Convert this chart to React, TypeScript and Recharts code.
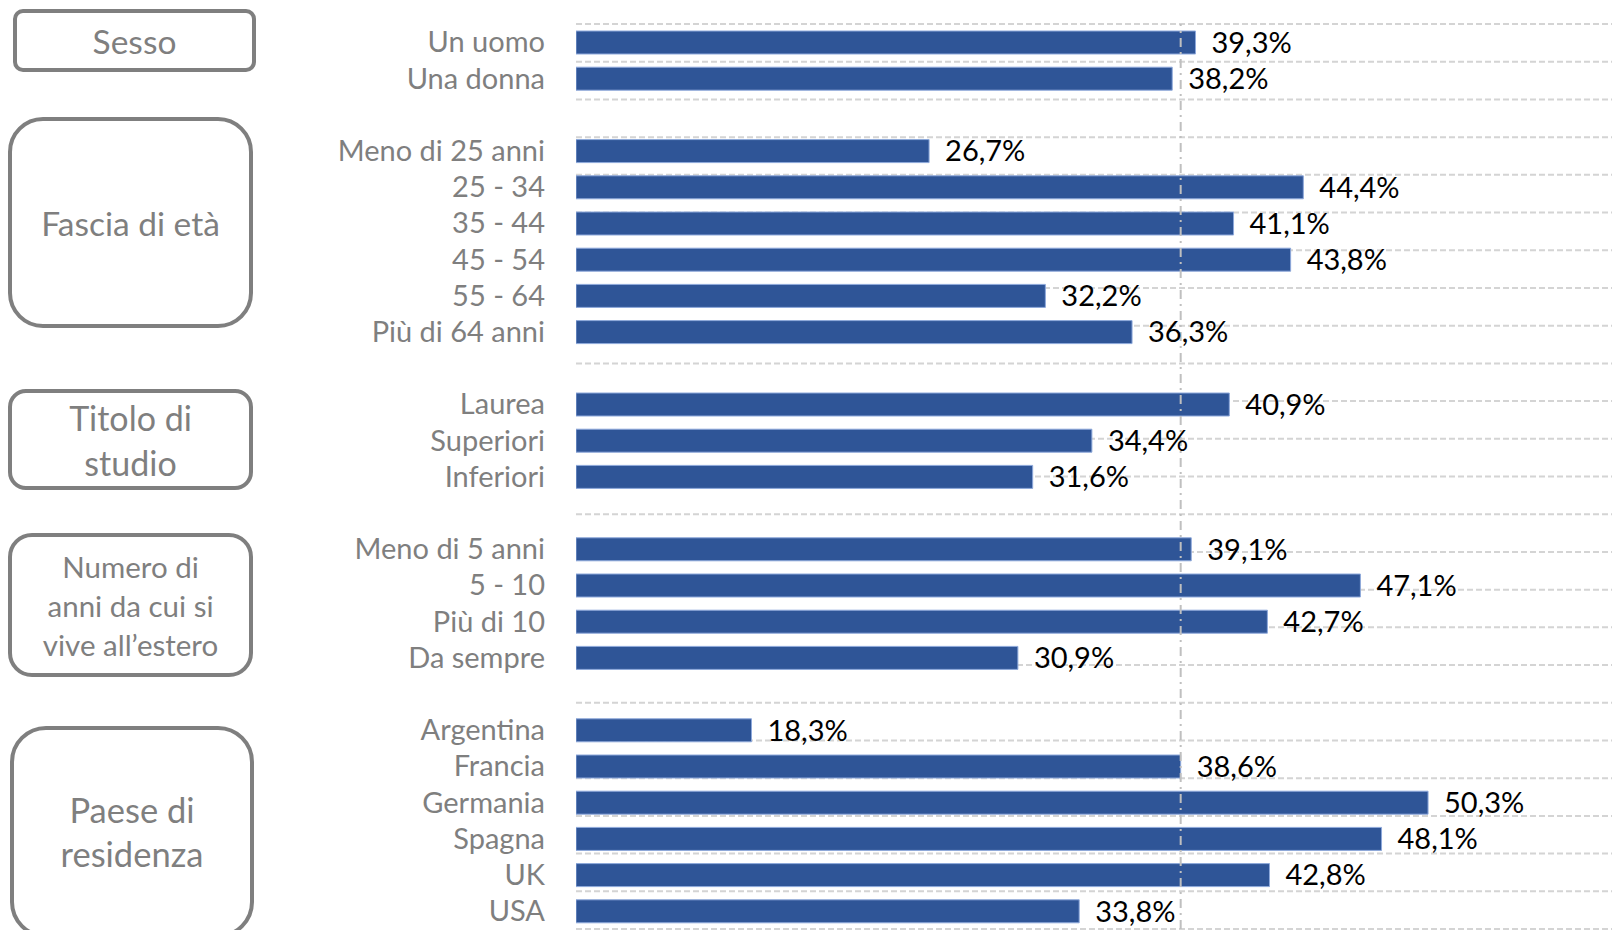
import React from "react";
import { BarChart, Bar, XAxis, YAxis, CartesianGrid, ReferenceLine, LabelList } from "recharts";

// ---- data ----
const groupTitles = [
  "Sesso",
  "Fascia di età",
  "Titolo di\nstudio",
  "Numero di\nanni da cui si\nvive all’estero",
  "Paese di\nresidenza",
];

const sessoLabels = ["Un uomo", "Una donna"];
const sessoValues = [39.3, 38.2];

const etaLabels = ["Meno di 25 anni", "25 - 34", "35 - 44", "45 - 54", "55 - 64", "Più di 64 anni"];
const etaValues = [26.7, 44.4, 41.1, 43.8, 32.2, 36.3];

const studioLabels = ["Laurea", "Superiori", "Inferiori"];
const studioValues = [40.9, 34.4, 31.6];

const anniLabels = ["Meno di 5 anni", "5 - 10", "Più di 10", "Da sempre"];
const anniValues = [39.1, 47.1, 42.7, 30.9];

const paeseLabels = ["Argentina", "Francia", "Germania", "Spagna", "UK", "USA"];
const paeseValues = [18.3, 38.6, 50.3, 48.1, 42.8, 33.8];

const mediaValue = 38.6;
const valueDomain: [number, number] = [10, 59];

const groups = [
  { labels: sessoLabels, values: sessoValues },
  { labels: etaLabels, values: etaValues },
  { labels: studioLabels, values: studioValues },
  { labels: anniLabels, values: anniValues },
  { labels: paeseLabels, values: paeseValues },
];

type Row = { key: string; label: string; value: number | null };
const rows: Row[] = [];
groups.forEach((g, gi) => {
  if (gi > 0) rows.push({ key: `gap${gi}`, label: "", value: null });
  g.labels.forEach((l, i) => rows.push({ key: l, label: l, value: g.values[i] }));
});
const boundaryTicks = rows.map((_, i) => i).concat([rows.length]);

// ---- layout of the group boxes (decoration) ----
const boxLayout = [
  { left: 13, top: 9, width: 243, height: 63, radius: 10, fontSize: 33.5, lineHeight: 44 },
  { left: 8, top: 117, width: 245, height: 211, radius: 35, fontSize: 33.5, lineHeight: 44 },
  { left: 8, top: 389, width: 245, height: 101, radius: 18, fontSize: 34, lineHeight: 45 },
  { left: 8, top: 533, width: 245, height: 144, radius: 24, fontSize: 29.5, lineHeight: 39 },
  { left: 10, top: 726, width: 244, height: 212, radius: 36, fontSize: 34.5, lineHeight: 44 },
];

const FONT = "Lato, 'Open Sans', sans-serif";
const fmt = (v: any) => (v == null ? "" : Number(v).toFixed(1).replace(".", ",") + "%");

export default function App() {
  return (
    <div
      style={{
        position: "absolute",
        left: 0,
        top: 0,
        width: 1612,
        height: 930,
        overflow: "hidden",
        background: "#ffffff",
        fontFamily: FONT,
      }}
    >
      <BarChart
        layout="vertical"
        width={1612}
        height={930}
        data={rows}
        margin={{ top: 24, right: 0, bottom: 1, left: 0 }}
        barSize={23}
        style={{ fontFamily: FONT }}
      >
        <CartesianGrid
          yAxisId="grid"
          vertical={false}
          stroke="#D4D4D4"
          strokeWidth={2}
          strokeDasharray="6 3"
        />
        <XAxis type="number" domain={valueDomain} hide allowDataOverflow />
        <YAxis
          type="category"
          dataKey="key"
          width={576}
          interval={0}
          axisLine={false}
          tickLine={false}
          tickSize={0}
          tickMargin={31}
          tickFormatter={(k: string) => (k.startsWith("gap") ? "" : k)}
          tick={{ fill: "#7F7F7F", fontSize: 29, fontFamily: FONT }}
        />
        <YAxis yAxisId="grid" type="number" domain={[0, rows.length]} ticks={boundaryTicks} hide />
        <Bar dataKey="value" fill="#2F5597" stroke="#8EA9DB" strokeWidth={1} isAnimationActive={false}>
          <LabelList
            dataKey="value"
            position="right"
            offset={16}
            formatter={fmt}
            fill="#000000"
            fontSize={29}
            fontFamily={FONT}
          />
        </Bar>
        <ReferenceLine
          x={mediaValue}
          stroke="#BFBFBF"
          strokeWidth={2}
          strokeDasharray="9 5 2 5"
        />
      </BarChart>
      {boxLayout.map((b, i) => (
        <div
          key={i}
          style={{
            position: "absolute",
            left: b.left,
            top: b.top,
            width: b.width,
            height: b.height,
            boxSizing: "border-box",
            border: "4px solid #7F7F7F",
            borderRadius: b.radius,
            background: "#ffffff",
            display: "flex",
            alignItems: "center",
            justifyContent: "center",
            textAlign: "center",
            whiteSpace: "pre-line",
            color: "#7F7F7F",
            fontSize: b.fontSize,
            lineHeight: `${b.lineHeight}px`,
            fontFamily: FONT,
          }}
        >
          {groupTitles[i]}
        </div>
      ))}
    </div>
  );
}
